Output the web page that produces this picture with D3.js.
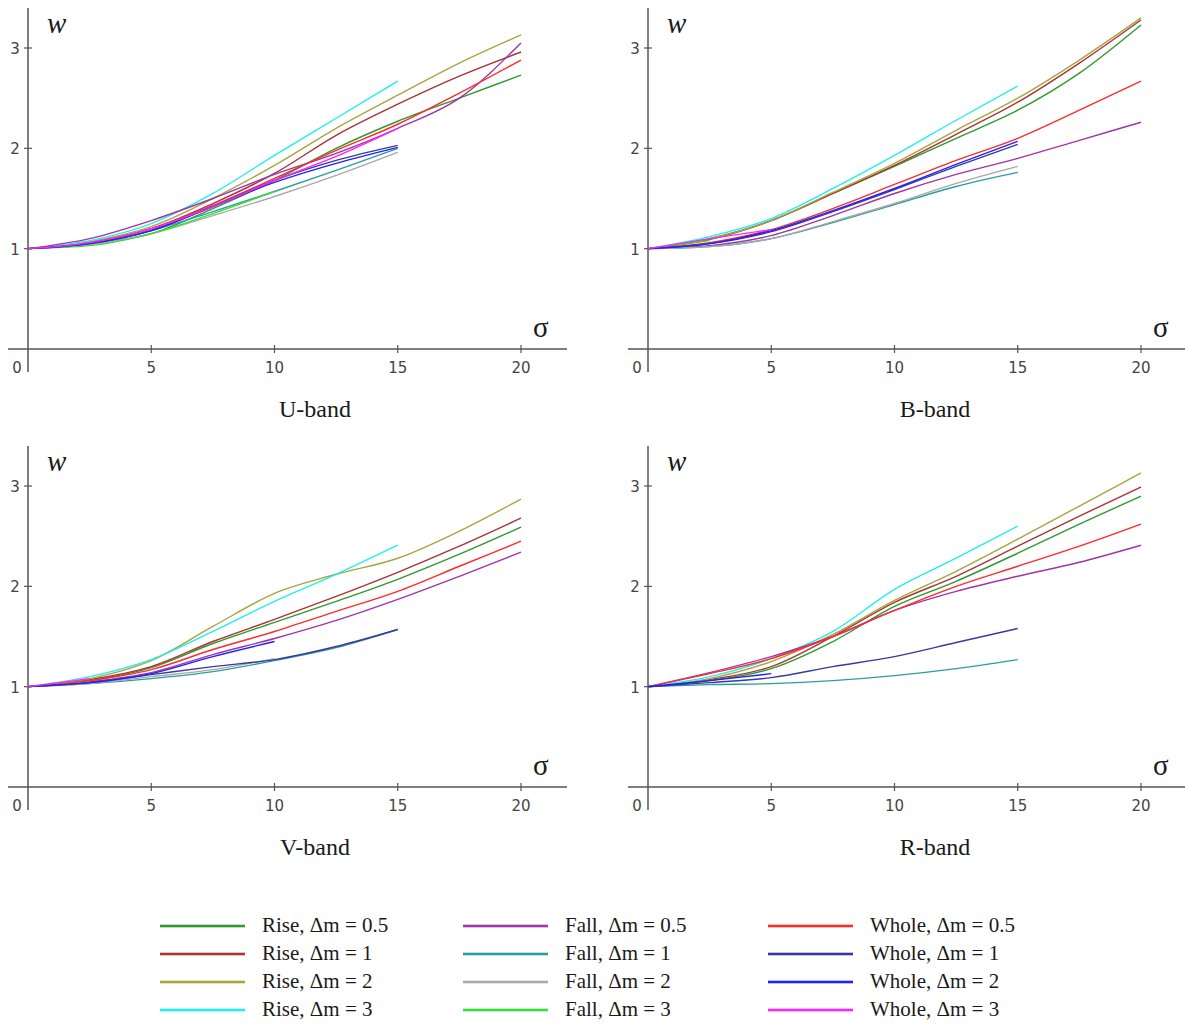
<!DOCTYPE html>
<html><head><meta charset="utf-8">
<script src="https://cdn.jsdelivr.net/npm/d3@7"></script>
<style>body{margin:0;background:#fff}svg{display:block}</style>
</head><body>
<svg id="c" width="1185" height="1024"></svg>
<script>
// sigma grid shared by all series
const sigma = [0, 2.5, 5, 7.5, 10, 12.5, 15, 17.5, 20];
const xTicks = [5, 10, 15, 20];
const yTicks = [1, 2, 3];
const bands = ["U-band", "B-band", "V-band", "R-band"];
const seriesNames = ["Rise, Δm = 0.5","Rise, Δm = 1","Rise, Δm = 2","Rise, Δm = 3",
  "Fall, Δm = 0.5","Fall, Δm = 1","Fall, Δm = 2","Fall, Δm = 3",
  "Whole, Δm = 0.5","Whole, Δm = 1","Whole, Δm = 2","Whole, Δm = 3"];
const seriesColors = ["#2e9a2e","#a83434","#aaa440","#22eeee",
  "#a035a8","#2a9e9e","#a8a8a8","#33e033",
  "#ff2a2a","#3a3a9c","#2020ff","#ff22ff"];

// w values along sigma grid (series order as seriesNames)
const U_w = [
  [1, 1.05, 1.15, 1.4, 1.68, 2.0, 2.27, 2.5, 2.73],
  [1, 1.06, 1.2, 1.45, 1.75, 2.13, 2.44, 2.72, 2.96],
  [1, 1.07, 1.22, 1.5, 1.83, 2.2, 2.53, 2.85, 3.13],
  [1, 1.08, 1.25, 1.55, 1.93, 2.3, 2.67],
  [1, 1.1, 1.28, 1.5, 1.74, 1.95, 2.2, 2.5, 3.05],
  [1, 1.05, 1.18, 1.37, 1.57, 1.78, 2.0],
  [1, 1.04, 1.15, 1.33, 1.52, 1.73, 1.96],
  [1, 1.03, 1.15, 1.35, 1.57],
  [1, 1.06, 1.2, 1.43, 1.7, 1.98, 2.24, 2.55, 2.88],
  [1, 1.05, 1.18, 1.42, 1.68, 1.88, 2.03],
  [1, 1.05, 1.18, 1.42, 1.66, 1.85, 2.01],
  [1, 1.06, 1.2, 1.42, 1.68, 1.92, 2.2]
];
const B_w = [
  [1, 1.09, 1.28, 1.55, 1.82, 2.1, 2.38, 2.75, 3.23],
  [1, 1.1, 1.28, 1.55, 1.83, 2.14, 2.46, 2.85, 3.28],
  [1, 1.1, 1.28, 1.56, 1.85, 2.18, 2.5, 2.88, 3.3],
  [1, 1.12, 1.3, 1.6, 1.93, 2.28, 2.62],
  [1, 1.03, 1.13, 1.33, 1.55, 1.74, 1.9, 2.08, 2.26],
  [1, 1.02, 1.1, 1.26, 1.44, 1.62, 1.76],
  [1, 1.02, 1.1, 1.27, 1.45, 1.65, 1.82],
  [1, 1.08],
  [1, 1.06, 1.19, 1.4, 1.64, 1.88, 2.1, 2.38, 2.67],
  [1, 1.05, 1.17, 1.37, 1.59, 1.82, 2.04],
  [1, 1.05, 1.18, 1.38, 1.6, 1.84, 2.07],
  [1, 1.1, 1.19]
];
const V_w = [
  [1, 1.06, 1.19, 1.43, 1.64, 1.85, 2.07, 2.32, 2.59],
  [1, 1.07, 1.2, 1.45, 1.67, 1.9, 2.14, 2.4, 2.68],
  [1, 1.08, 1.26, 1.6, 1.93, 2.12, 2.28, 2.55, 2.87],
  [1, 1.1, 1.27, 1.55, 1.85, 2.12, 2.41],
  [1, 1.05, 1.14, 1.32, 1.48, 1.66, 1.87, 2.1, 2.34],
  [1, 1.03, 1.08, 1.15, 1.26, 1.39, 1.57],
  [1, 1.03, 1.1, 1.17, 1.28],
  [1, 1.05],
  [1, 1.06, 1.17, 1.37, 1.55, 1.75, 1.95, 2.2, 2.45],
  [1, 1.04, 1.12, 1.2, 1.27, 1.4, 1.57],
  [1, 1.04, 1.13, 1.3, 1.45],
  [1, 1.08]
];
const R_w = [
  [1, 1.06, 1.18, 1.45, 1.8, 2.05, 2.33, 2.62, 2.9],
  [1, 1.07, 1.2, 1.5, 1.84, 2.1, 2.4, 2.7, 2.99],
  [1, 1.08, 1.25, 1.52, 1.86, 2.15, 2.47, 2.8, 3.13],
  [1, 1.1, 1.28, 1.55, 1.97, 2.28, 2.6],
  [1, 1.14, 1.3, 1.5, 1.76, 1.95, 2.1, 2.24, 2.41],
  [1, 1.02, 1.03, 1.06, 1.11, 1.18, 1.27],
  [],
  [],
  [1, 1.13, 1.28, 1.5, 1.76, 2.0, 2.2, 2.4, 2.62],
  [1, 1.04, 1.09, 1.2, 1.3, 1.44, 1.58],
  [1, 1.06, 1.13],
  []
];
const bandData = [U_w, B_w, V_w, R_w];

const svg = d3.select("#c");
const panels = [
  {dx: 0, dy: 0}, {dx: 620, dy: 0}, {dx: 0, dy: 438}, {dx: 620, dy: 438}
];
const axisColor = "#555";
const tickFont = "DejaVu Sans, sans-serif";
const serif = "Liberation Serif, 'DejaVu Serif', serif";

panels.forEach((p, i) => {
  const g = svg.append("g").attr("transform", `translate(${p.dx},${p.dy})`);
  const x = d3.scaleLinear().domain([0, 20]).range([28, 521]);
  const y = d3.scaleLinear().domain([0, 3]).range([349, 48]);

  g.append("line").attr("x1", 8).attr("x2", 567).attr("y1", y(0)).attr("y2", y(0))
    .attr("stroke", axisColor).attr("stroke-width", 1.5);
  g.append("line").attr("x1", x(0)).attr("x2", x(0)).attr("y1", 8).attr("y2", 372)
    .attr("stroke", axisColor).attr("stroke-width", 1.5);

  xTicks.forEach(t => {
    g.append("line").attr("x1", x(t)).attr("x2", x(t)).attr("y1", y(0) - 4).attr("y2", y(0) + 4)
      .attr("stroke", axisColor).attr("stroke-width", 1.2);
    g.append("text").attr("x", x(t)).attr("y", y(0) + 24).attr("text-anchor", "middle")
      .attr("font-family", tickFont).attr("font-size", 15).attr("fill", "#444").text(t);
  });
  g.append("text").attr("x", x(0) - 11).attr("y", y(0) + 24).attr("text-anchor", "middle")
    .attr("font-family", tickFont).attr("font-size", 15).attr("fill", "#444").text("0");
  yTicks.forEach(t => {
    g.append("line").attr("x1", x(0) - 4).attr("x2", x(0) + 4).attr("y1", y(t)).attr("y2", y(t))
      .attr("stroke", axisColor).attr("stroke-width", 1.2);
    g.append("text").attr("x", x(0) - 13).attr("y", y(t) + 6).attr("text-anchor", "middle")
      .attr("font-family", tickFont).attr("font-size", 15).attr("fill", "#444").text(t);
  });

  g.append("text").attr("x", 47).attr("y", 33).attr("font-family", serif)
    .attr("font-style", "italic").attr("font-size", 29).attr("fill", "#1a1a1a").text("w");
  g.append("text").attr("x", 533).attr("y", 337).attr("font-family", serif)
    .attr("font-size", 29).attr("fill", "#1a1a1a").text("σ");
  g.append("text").attr("x", 315).attr("y", 417).attr("text-anchor", "middle")
    .attr("font-family", serif).attr("font-size", 24).attr("fill", "#1a1a1a").text(bands[i]);

  const line = d3.line().x((d, k) => x(sigma[k])).y(d => y(d)).curve(d3.curveMonotoneX);
  bandData[i].forEach((vals, s) => {
    if (vals.length < 2) return;
    g.append("path").attr("d", line(vals)).attr("fill", "none")
      .attr("stroke", seriesColors[s]).attr("stroke-width", 1.4);
  });
});

// legend
const legCols = [160, 463, 768];
const legRows = [926, 954, 982, 1010];
seriesNames.forEach((name, s) => {
  const cx = legCols[Math.floor(s / 4)], cy = legRows[s % 4];
  const lg = svg.append("g");
  lg.append("line").attr("x1", cx).attr("x2", cx + 85).attr("y1", cy).attr("y2", cy)
    .attr("stroke", seriesColors[s]).attr("stroke-width", 4).attr("stroke-opacity", 0.3);
  lg.append("line").attr("x1", cx).attr("x2", cx + 85).attr("y1", cy).attr("y2", cy)
    .attr("stroke", seriesColors[s]).attr("stroke-width", 2);
  lg.append("text").attr("x", cx + 102).attr("y", cy + 6).attr("font-family", serif)
    .attr("font-size", 21).attr("fill", "#1a1a1a").text(name);
});
</script>
</body></html>
